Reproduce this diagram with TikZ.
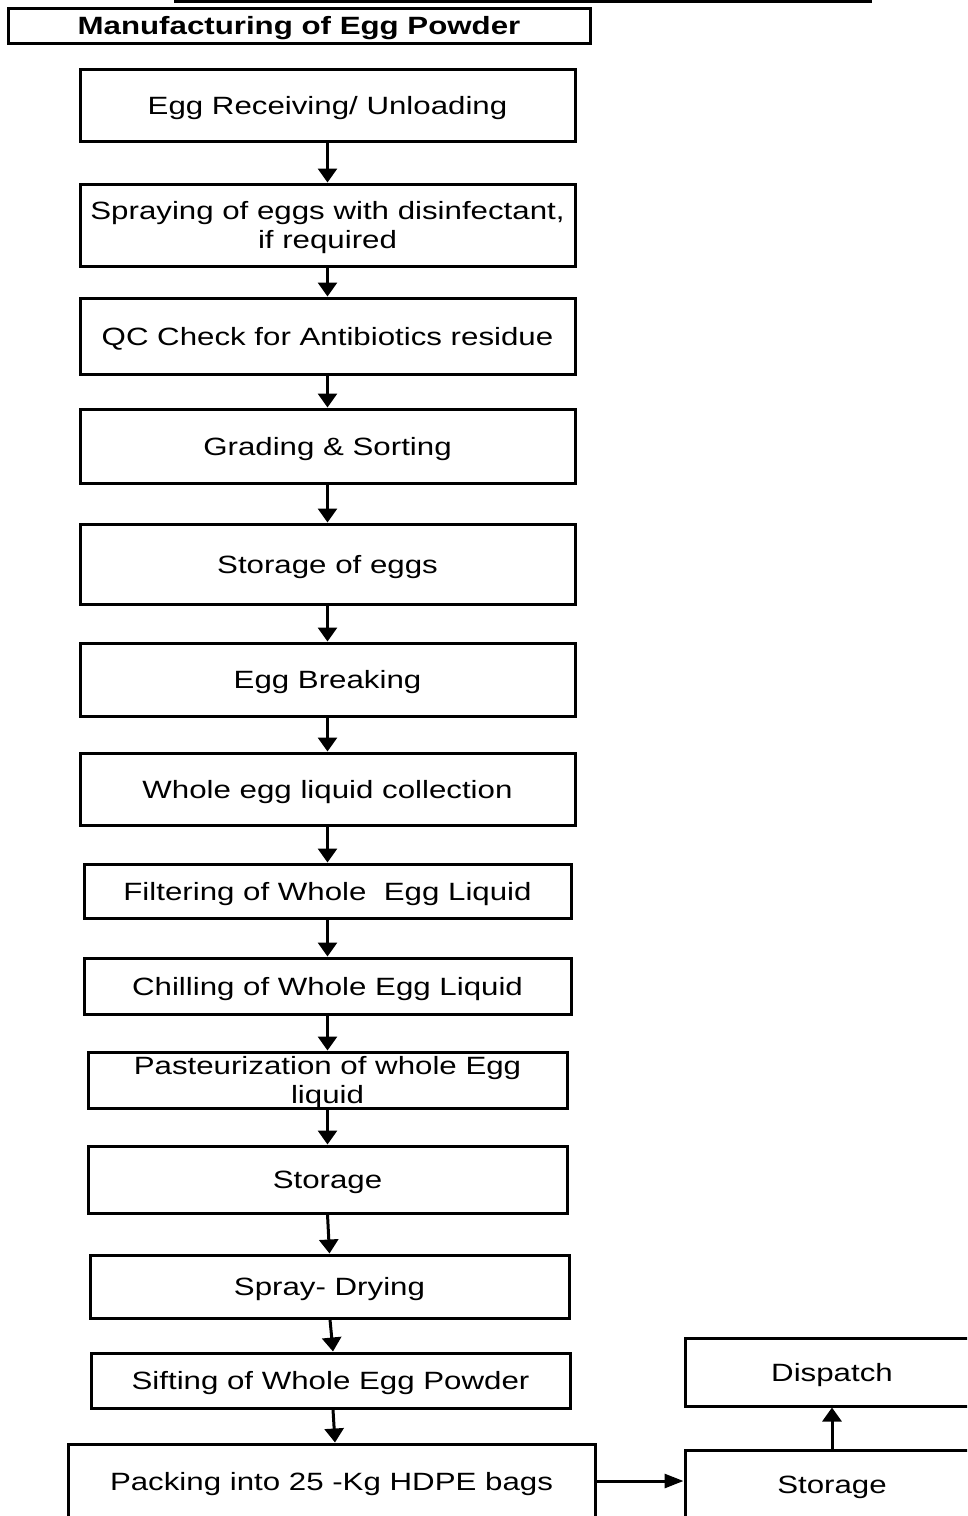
\documentclass[tikz,border=0pt]{standalone}
\usepackage{fontspec}
\setmainfont{Liberation Sans}[FakeStretch=1.25]
\usetikzlibrary{arrows.meta}
\begin{document}
\begin{tikzpicture}[x=1pt,y=-1pt,
  stepbox/.style={draw, line width=3pt, inner sep=0pt, align=center,
    text depth=0pt, font=\fontsize{25}{29}\selectfont},
  titlebox/.style={stepbox, font=\bfseries\fontsize{25}{29}\selectfont},
  flow/.style={line width=3pt, -{Triangle[length=14pt,width=19pt]}},
  flowh/.style={line width=3pt, -{Triangle[length=19pt,width=14pt]}}]
\clip (0,0) rectangle (967,1516);

% heading rule and title
\coordinate (ruleL) at (174,1.2);
\coordinate (ruleR) at (872,1.2);
\draw[line width=2.6pt] (ruleL) -- (ruleR);
\node[titlebox, minimum width=582pt, minimum height=35pt] (title) at (299,25.5) {Manufacturing of Egg Powder};

% process steps
\node[stepbox, minimum width=495pt, minimum height=72pt] (b1) at (327.5,105) {Egg Receiving/ Unloading};
\node[stepbox, minimum width=495pt, minimum height=82pt] (b2) at (327.5,225) {Spraying of eggs with disinfectant,\\if required};
\node[stepbox, minimum width=495pt, minimum height=76pt] (b3) at (327.5,336) {QC Check for Antibiotics residue};
\node[stepbox, minimum width=495pt, minimum height=74pt] (b4) at (327.5,446) {Grading \& Sorting};
\node[stepbox, minimum width=495pt, minimum height=80pt] (b5) at (327.5,564) {Storage of eggs};
\node[stepbox, minimum width=495pt, minimum height=73pt] (b6) at (327.5,679.5) {Egg Breaking};
\node[stepbox, minimum width=495pt, minimum height=72pt] (b7) at (327.5,789) {Whole egg liquid collection};
\node[stepbox, minimum width=487pt, minimum height=54pt] (b8) at (327.5,891) {Filtering of Whole\ \ Egg Liquid};
\node[stepbox, minimum width=487pt, minimum height=56pt] (b9) at (327.5,986) {Chilling of Whole Egg Liquid};
\node[stepbox, minimum width=479pt, minimum height=56pt] (b10) at (327.5,1080) {Pasteurization of whole Egg\\liquid};
\node[stepbox, minimum width=479pt, minimum height=67pt] (b11) at (327.5,1179.5) {Storage};
\node[stepbox, minimum width=479pt, minimum height=63pt] (b12) at (329.5,1286.5) {Spray- Drying};
\node[stepbox, minimum width=479pt, minimum height=55pt] (b13) at (330.5,1380.5) {Sifting of Whole Egg Powder};
\node[stepbox, minimum width=527pt, minimum height=74pt] (b14) at (331.5,1481) {Packing into 25 -Kg HDPE bags};
\node[stepbox, minimum width=294pt, minimum height=70pt] (b15) at (832,1485) {Storage};
\node[stepbox, minimum width=294pt, minimum height=68pt] (b16) at (832,1372) {Dispatch};

% connectors
\foreach \a/\b in {b1/b2,b2/b3,b3/b4,b4/b5,b5/b6,b6/b7,b7/b8,b8/b9,b9/b10,b10/b11,b11/b12}
  \draw[flow] (\a.south) -- (\b.north);
\draw[flow] ([xshift=0.5pt]b12.south) -- ([xshift=2.5pt]b13.north);
\draw[flow] ([xshift=2.5pt]b13.south) -- ([xshift=3.5pt]b14.north);
\draw[flowh] (b14.east) -- (b14.east -| b15.west);
\draw[flow] (b15.north) -- (b16.south);
\end{tikzpicture}
\end{document}
